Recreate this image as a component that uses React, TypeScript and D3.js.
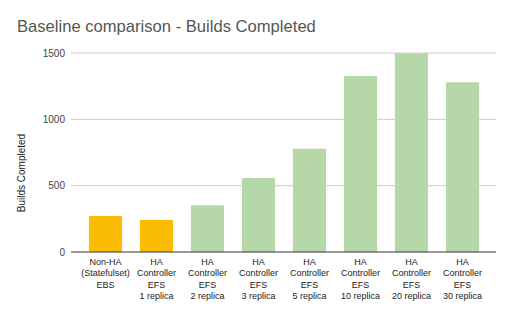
import React from 'react';
import * as d3 from 'd3';

const categories = [
  ['Non-HA', '(Statefulset)', 'EBS'],
  ['HA', 'Controller', 'EFS', '1 replica'],
  ['HA', 'Controller', 'EFS', '2 replica'],
  ['HA', 'Controller', 'EFS', '3 replica'],
  ['HA', 'Controller', 'EFS', '5 replica'],
  ['HA', 'Controller', 'EFS', '10 replica'],
  ['HA', 'Controller', 'EFS', '20 replica'],
  ['HA', 'Controller', 'EFS', '30 replica'],
];
const builds = [271, 241, 352, 558, 779, 1327, 1498, 1280];
const highlighted = [true, true, false, false, false, false, false, false];
const yTicks = [0, 500, 1000, 1500];

const W = 512;
const H = 317;
const FONT = '"Liberation Sans", Arial, sans-serif';

export default function App() {
  const x = d3
    .scaleBand<number>()
    .domain(d3.range(categories.length))
    .range([80, 488])
    .paddingInner(0.35)
    .paddingOuter(0.175);
  const y = d3.scaleLinear().domain([0, 1500]).range([252, 53]);

  return (
    <svg
      width={W}
      height={H}
      style={{ position: 'absolute', top: 0, left: 0, background: '#fff' }}
      fontFamily={FONT}
    >
      <rect width={W} height={H} fill="#fff" />
      <text x={17} y={32} fontSize={16.6} fill="#555">
        Baseline comparison - Builds Completed
      </text>
      <text
        transform={`translate(25,${173}) rotate(-90)`}
        textAnchor="middle"
        fontSize={10}
        fill="#222"
      >
        Builds Completed
      </text>
      {yTicks.map((t) => (
        <g key={t}>
          {t !== 0 && (
            <line x1={71} x2={496} y1={y(t)} y2={y(t)} stroke="#ccc" strokeWidth={1} />
          )}
          <text x={65} y={y(t) + 3.5} textAnchor="end" fontSize={10} fill="#444">
            {t}
          </text>
        </g>
      ))}
      {builds.map((v, i) => (
        <rect
          key={i}
          x={x(i)}
          y={y(v)}
          width={x.bandwidth()}
          height={y(0) - y(v)}
          fill={highlighted[i] ? '#fbbc04' : '#b6d7a8'}
          rx={1}
        />
      ))}
      <line x1={71} x2={496} y1={y(0)} y2={y(0)} stroke="#333" strokeWidth={1} />
      {categories.map((lines, i) => (
        <text
          key={i}
          x={(x(i) ?? 0) + x.bandwidth() / 2}
          textAnchor="middle"
          fontSize={9}
          fill="#222"
        >
          {lines.map((l, j) => (
            <tspan key={j} x={(x(i) ?? 0) + x.bandwidth() / 2} y={265 + j * 11.3}>
              {l}
            </tspan>
          ))}
        </text>
      ))}
    </svg>
  );
}
